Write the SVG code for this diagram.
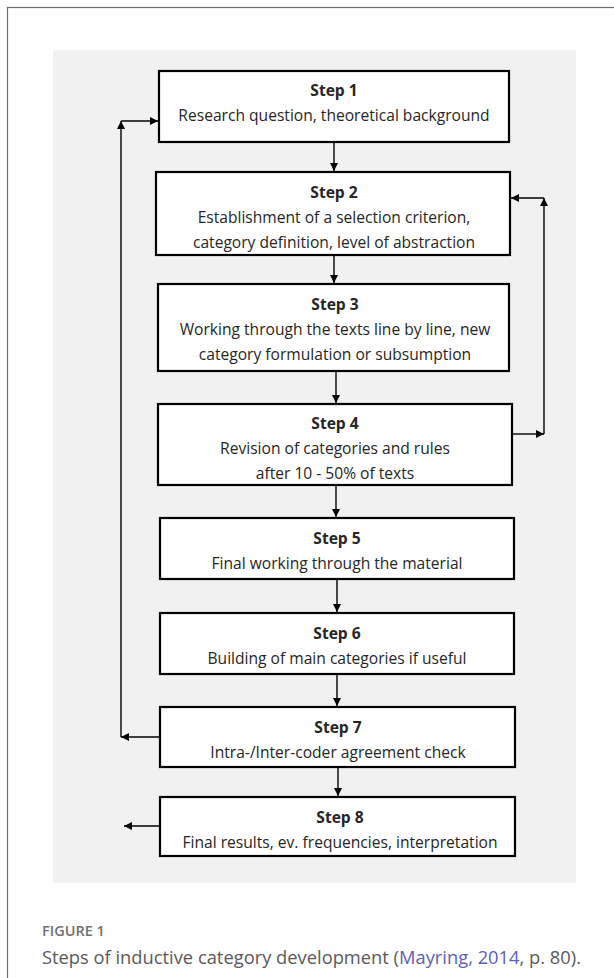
<svg xmlns="http://www.w3.org/2000/svg" width="614" height="978" viewBox="0 0 614 978">
<style>
.box{fill:#ffffff;stroke:#000;stroke-width:2.2}
.t{font-family:"Open Sans","Liberation Sans",sans-serif;font-size:15.6px;fill:#262626;text-anchor:middle}
.h{font-weight:bold}
.c{fill:none;stroke:#000;stroke-width:1.4}
</style>
<defs>
<marker id="ah" viewBox="0 0 10 10" refX="10" refY="5" markerWidth="8" markerHeight="8" markerUnits="userSpaceOnUse" orient="auto">
<path d="M0,0 L10,5 L0,10 z" fill="#000"/>
</marker>
</defs>
<rect x="0" y="0" width="614" height="978" fill="#fff"/>
<rect x="7.5" y="7.5" width="640" height="1000" fill="none" stroke="#6e6e6e" stroke-width="1.2"/>
<rect x="53" y="50" width="523" height="833" fill="#f1f1f1"/>

<g id="connectors">
<line class="c" x1="334" y1="143" x2="334" y2="171" marker-end="url(#ah)"/>
<line class="c" x1="334" y1="256" x2="334" y2="283" marker-end="url(#ah)"/>
<line class="c" x1="336" y1="372" x2="336" y2="403" marker-end="url(#ah)"/>
<line class="c" x1="336" y1="486" x2="336" y2="517" marker-end="url(#ah)"/>
<line class="c" x1="337" y1="580" x2="337" y2="612" marker-end="url(#ah)"/>
<line class="c" x1="337" y1="675" x2="337" y2="706" marker-end="url(#ah)"/>
<line class="c" x1="338" y1="768" x2="338" y2="796" marker-end="url(#ah)"/>
<line class="c" x1="159" y1="737" x2="121" y2="737" marker-end="url(#ah)"/>
<line class="c" x1="121" y1="737" x2="121" y2="121" marker-end="url(#ah)"/>
<line class="c" x1="121" y1="121" x2="158" y2="121" marker-end="url(#ah)"/>
<line class="c" x1="513" y1="434" x2="544" y2="434" marker-end="url(#ah)"/>
<line class="c" x1="544" y1="434" x2="544" y2="198" marker-end="url(#ah)"/>
<line class="c" x1="544" y1="198" x2="511" y2="198" marker-end="url(#ah)"/>
<line class="c" x1="159" y1="826" x2="124" y2="826" marker-end="url(#ah)"/>
</g>

<g id="step1">
<rect class="box" x="159" y="71" width="350" height="71"/>
<text class="t h" x="334" y="96">Step 1</text>
<text class="t" x="334" y="121">Research question, theoretical background</text>
</g>
<g id="step2">
<rect class="box" x="156" y="172" width="354" height="83"/>
<text class="t h" x="334" y="198">Step 2</text>
<text class="t" x="334" y="223">Establishment of a selection criterion,</text>
<text class="t" x="334" y="248">category definition, level of abstraction</text>
</g>
<g id="step3">
<rect class="box" x="158" y="284" width="351" height="87"/>
<text class="t h" x="335" y="310">Step 3</text>
<text class="t" x="335" y="335">Working through the texts line by line, new</text>
<text class="t" x="335" y="360">category formulation or subsumption</text>
</g>
<g id="step4">
<rect class="box" x="158" y="404" width="354" height="81"/>
<text class="t h" x="335" y="429">Step 4</text>
<text class="t" x="335" y="454">Revision of categories and rules</text>
<text class="t" x="335" y="479">after 10 - 50% of texts</text>
</g>
<g id="step5">
<rect class="box" x="160" y="518" width="354" height="61"/>
<text class="t h" x="337" y="544">Step 5</text>
<text class="t" x="337" y="569">Final working through the material</text>
</g>
<g id="step6">
<rect class="box" x="160" y="613" width="354" height="61"/>
<text class="t h" x="337" y="639">Step 6</text>
<text class="t" x="337" y="664">Building of main categories if useful</text>
</g>
<g id="step7">
<rect class="box" x="160" y="707" width="355" height="60"/>
<text class="t h" x="338" y="733">Step 7</text>
<text class="t" x="338" y="758">Intra-/Inter-coder agreement check</text>
</g>
<g id="step8">
<rect class="box" x="160" y="797" width="355" height="59"/>
<text class="t h" x="340" y="823">Step 8</text>
<text class="t" x="340" y="848">Final results, ev. frequencies, interpretation</text>
</g>

<text x="42" y="936" font-family="'Open Sans','Liberation Sans',sans-serif" font-size="14.5" font-weight="600" fill="#707070">FIGURE 1</text>
<text x="42" y="964" font-family="'Open Sans','Liberation Sans',sans-serif" font-size="18" fill="#5a5a5a" textLength="539" lengthAdjust="spacingAndGlyphs">Steps of inductive category development (<tspan fill="#5b5fb5">Mayring, 2014</tspan>, p. 80).</text>
</svg>
